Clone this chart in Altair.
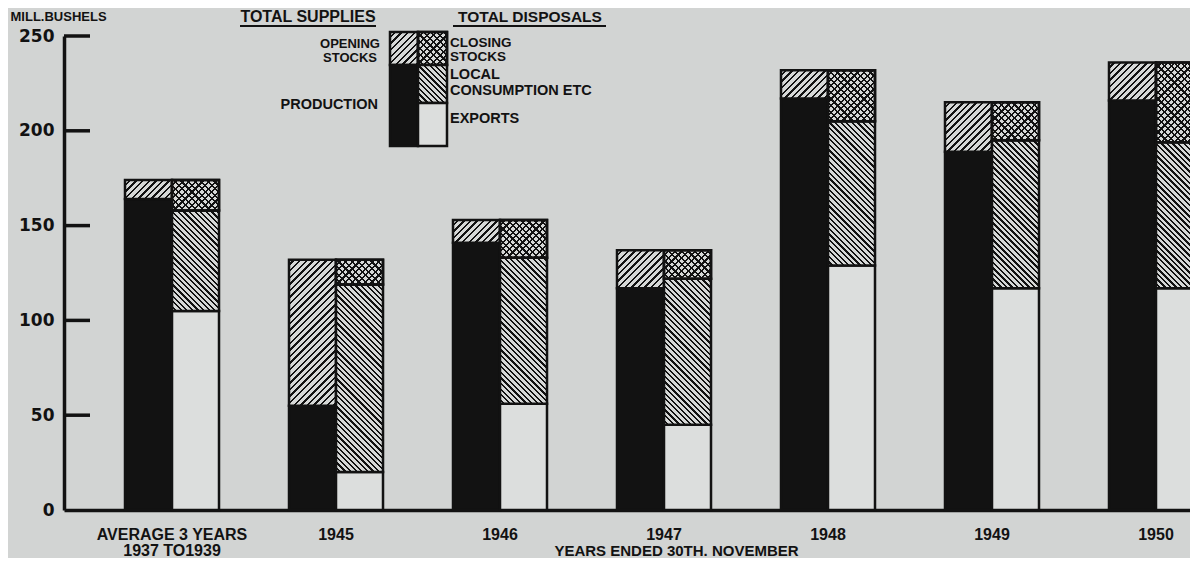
import altair as alt
import pandas as pd

# ---------------- data ----------------
categories = ["1937-39", "1945", "1946", "1947", "1948", "1949", "1950"]
production = [164, 55, 141, 117, 217, 189, 216]
opening_stocks = [10, 77, 12, 20, 15, 26, 20]
exports = [105, 20, 56, 45, 129, 117, 117]
local_consumption = [53, 99, 77, 77, 76, 78, 77]
closing_stocks = [16, 13, 20, 15, 27, 20, 42]
y_ticks = [0, 50, 100, 150, 200, 250]
first_label = ["AVERAGE 3 YEARS", "1937 TO1939"]
y_title = "MILL.BUSHELS"
x_title = "YEARS ENDED 30TH. NOVEMBER"
head_supplies = "TOTAL SUPPLIES"
head_disposals = "TOTAL DISPOSALS"
legend_left = [["OPENING", "STOCKS"], ["PRODUCTION"]]
legend_right = [["CLOSING", "STOCKS"], ["LOCAL", "CONSUMPTION ETC"], ["EXPORTS"]]

# ---------------- styling / geometry ----------------
BG = "#d2d4d3"
LIGHT = "#d6d8d7"
EXPORT_FILL = "#dcdedd"
INK = "#121212"
FONT = "Liberation Sans"
W_PLOT, H_PLOT, Y_MAX = 1124, 474, 250
X_RANGE = 1139
PAD_IN, PAD_OUT = 0.4268, 0.186
STEP = X_RANGE / (len(categories) - PAD_IN + 2 * PAD_OUT)
BAR_W = STEP * (1 - PAD_IN) / 2
PX = H_PLOT / Y_MAX

rows = []
for i, c in enumerate(categories):
    p, o = production[i], opening_stocks[i]
    e, l, s = exports[i], local_consumption[i], closing_stocks[i]
    rows.append(dict(cat=c, side="S", seg="production", y0=0, y1=p))
    rows.append(dict(cat=c, side="S", seg="opening", y0=p, y1=p + o))
    rows.append(dict(cat=c, side="D", seg="exports", y0=0, y1=e))
    rows.append(dict(cat=c, side="D", seg="local", y0=e, y1=e + l))
    rows.append(dict(cat=c, side="D", seg="closing", y0=e + l, y1=e + l + s))
df = pd.DataFrame(rows)


def hatch_fill(w, h, direction, spacing, frac, light, dark):
    w = max(float(w), 1.0)
    h = max(float(h), 1.0)
    c = (w + h) / (w * w + h * h)
    if direction == "/":
        x1, y1, x2, y2 = 0, 0, c * w, c * h
    else:
        x1, y1, x2, y2 = 0, 1, c * w, 1 - c * h
    n = (w + h) / spacing
    stops = []
    k = 0
    while k / n < 1:
        a = k / n
        b = min((k + 1 - frac) / n, 1)
        e = min((k + 1) / n, 1)
        stops += [
            {"offset": round(a, 5), "color": light},
            {"offset": round(b, 5), "color": light},
            {"offset": round(b, 5), "color": dark},
            {"offset": round(e, 5), "color": dark},
        ]
        k += 1
    return {"gradient": "linear", "x1": round(x1, 5), "y1": round(y1, 5),
            "x2": round(x2, 5), "y2": round(y2, 5), "stops": stops}


TRANSP = "rgba(0,0,0,0)"

xscale = alt.Scale(domain=categories, range=[0, X_RANGE], paddingInner=PAD_IN,
                   paddingOuter=PAD_OUT, align=1)
yscale = alt.Scale(domain=[0, Y_MAX], nice=False, zero=True)

label_expr = ("datum.value == '%s' ? ['%s', '%s'] : datum.value"
              % (categories[0], first_label[0], first_label[1]))
xaxis = alt.Axis(title=x_title, titleX=612, titleY=48, titleAlign="center",
                 titleBaseline="bottom", titleFont=FONT, titleFontSize=15,
                 titleFontWeight="bold", titleColor=INK,
                 domain=True, domainColor=INK, domainWidth=3.5,
                 ticks=False, tickSize=0, labelAngle=0, labelPadding=16,
                 labelBaseline="top", labelFont=FONT, labelFontSize=16,
                 labelFontWeight="bold", labelColor=INK, labelExpr=label_expr,
                 labelLineHeight=16, labelOverlap=False, grid=False)
yaxis = alt.Axis(values=y_ticks, title=y_title, titleAngle=0, titleX=-54, titleY=-20,
                 titleAlign="left", titleBaseline="middle", titleFont=FONT,
                 titleFontSize=13, titleFontWeight="bold", titleColor=INK,
                 domain=True, domainColor=INK, domainWidth=3.5, ticks=False,
                 tickSize=0, labelPadding=10, labelFont="DejaVu Sans",
                 labelFontSize=17, labelFontWeight="bold", labelColor=INK, grid=False)

X = alt.X("cat:N", scale=xscale, axis=xaxis, sort=categories)
XO = alt.XOffset("side:N", scale=alt.Scale(domain=["S", "D"], paddingInner=0, paddingOuter=0))
Y = alt.Y("y1:Q", scale=yscale, axis=yaxis)
Y2 = alt.Y2("y0:Q")

base = alt.Chart(df)
layers = []

layers.append(base.transform_filter("datum.seg == 'production'")
              .mark_bar(fill=INK, stroke=INK, strokeWidth=2.5)
              .encode(x=X, xOffset=XO, y=Y, y2=Y2))
layers.append(base.transform_filter("datum.seg == 'exports'")
              .mark_bar(fill=EXPORT_FILL, stroke=INK, strokeWidth=2.5)
              .encode(x=X, xOffset=XO, y=Y, y2=Y2))

for r in rows:
    if r["seg"] in ("production", "exports"):
        continue
    h = (r["y1"] - r["y0"]) * PX
    flt = "datum.cat == '%s' && datum.seg == '%s'" % (r["cat"], r["seg"])
    sub = base.transform_filter(flt)
    if r["seg"] == "opening":
        fills = [hatch_fill(BAR_W, h, "/", 6.6, 0.36, LIGHT, INK)]
    elif r["seg"] == "local":
        fills = [hatch_fill(BAR_W, h, "\\", 5.6, 0.4, LIGHT, INK)]
    else:
        fills = [hatch_fill(BAR_W, h, "/", 6.6, 0.33, LIGHT, INK),
                 hatch_fill(BAR_W, h, "\\", 6.6, 0.33, TRANSP, INK)]
    for f in fills:
        layers.append(sub.mark_bar(fill=f, stroke=INK, strokeWidth=2.5)
                      .encode(x=X, xOffset=XO, y=Y, y2=Y2))

# inward ticks on the value axis
layers.append(alt.Chart(pd.DataFrame({"y1": y_ticks[1:]}))
              .mark_rule(color=INK, strokeWidth=3.5)
              .encode(y=Y, x=alt.value(0), x2=alt.value(26)))

# ---------------- key (drawn box) ----------------
one = alt.Data(values=[{"k": 1}])


def key_rect(x0, x1, y0, y1, fill):
    return (alt.Chart(one).mark_rect(fill=fill, stroke=INK, strokeWidth=2.5)
            .encode(x=alt.value(x0), x2=alt.value(x1), y=alt.value(y0), y2=alt.value(y1)))


KL, KM, KR = 326, 354, 383
KT, KS, KE, KB = -4, 29, 67, 110
layers.append(key_rect(KL, KM, KT, KS, hatch_fill(KM - KL, KS - KT, "/", 6.6, 0.36, LIGHT, INK)))
layers.append(key_rect(KL, KM, KS, KB, INK))
layers.append(key_rect(KM, KR, KT, KS, hatch_fill(KR - KM, KS - KT, "/", 6.6, 0.33, LIGHT, INK)))
layers.append(key_rect(KM, KR, KT, KS, hatch_fill(KR - KM, KS - KT, "\\", 6.6, 0.33, TRANSP, INK)))
layers.append(key_rect(KM, KR, KS, KE, hatch_fill(KR - KM, KE - KS, "\\", 5.6, 0.4, LIGHT, INK)))
layers.append(key_rect(KM, KR, KE, KB, EXPORT_FILL))


def text(t, x, y, align, size=15):
    return (alt.Chart(alt.Data(values=[{"t": t}]))
            .mark_text(align=align, baseline="middle", font=FONT, fontSize=size,
                       fontWeight="bold", color=INK)
            .encode(text="t:N", x=alt.value(x), y=alt.value(y)))


layers.append(text(legend_left[0][0], 286, 8, "center", 13))
layers.append(text(legend_left[0][1], 286, 22, "center", 13))
layers.append(text(legend_left[1][0], 314, 69, "right", 14.5))
layers.append(text(legend_right[0][0], 386, 7, "left", 13.5))
layers.append(text(legend_right[0][1], 386, 21, "left", 13.5))
layers.append(text(legend_right[1][0], 386, 39, "left", 14.5))
layers.append(text(legend_right[1][1], 386, 55, "left", 14.5))
layers.append(text(legend_right[2][0], 386, 83, "left", 14.5))
layers.append(text(head_supplies, 244, -19, "center", 16))
layers.append(text(head_disposals, 466, -19, "center", 15.5))


def underline(x0, x1, y):
    return (alt.Chart(one).mark_rule(color=INK, strokeWidth=2)
            .encode(x=alt.value(x0), x2=alt.value(x1), y=alt.value(y)))


layers.append(underline(176, 312, -10))
layers.append(underline(389, 542, -10))

chart = (alt.layer(*layers)
         .properties(width=W_PLOT, height=H_PLOT,
                     autosize=alt.AutoSizeParams(type="none"),
                     padding={"left": 56, "top": 28, "right": 2, "bottom": 48},
                     background=BG)
         .configure_view(stroke=None))

chart.save("out.html", embed_options={"renderer": "svg", "actions": False})
